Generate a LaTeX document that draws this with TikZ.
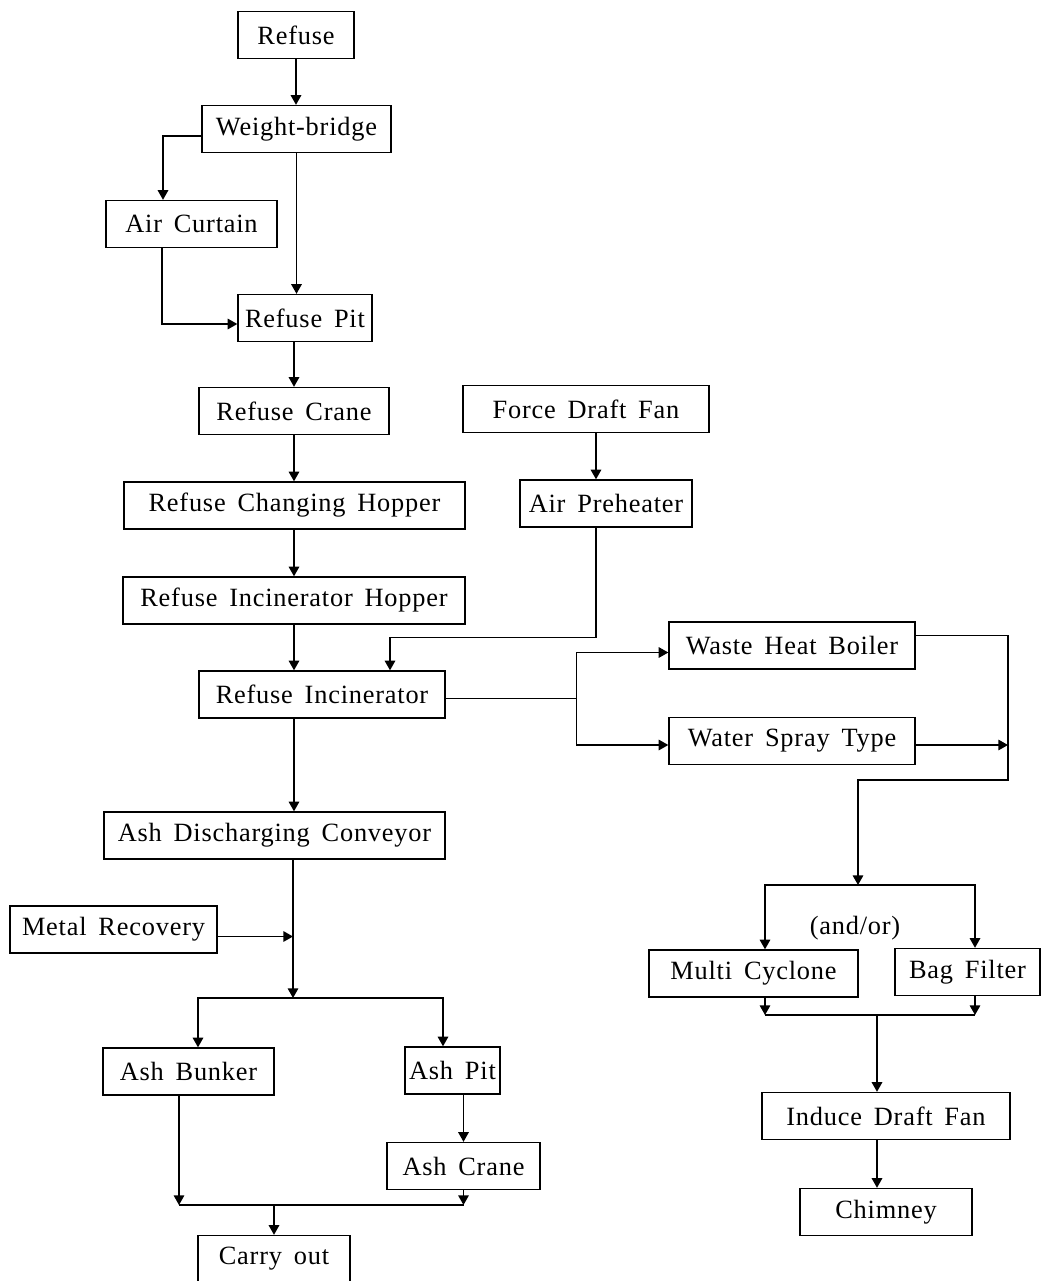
\documentclass[tikz,border=0pt]{standalone}
\usepackage{fontspec}
\setmainfont{Liberation Serif}[LetterSpace=3, WordSpace=1.6]
\usepackage{tikz}
\usetikzlibrary{arrows.meta, positioning, calc}

\begin{document}
\begin{tikzpicture}[
        x=0.02cm, y=-0.02cm,
        box/.style={
            draw=black,
            line width=0.8pt,
            minimum height=0.94cm,
            inner sep=2pt,
            font=\fontsize{15}{18}\selectfont
        },
        edge/.style={
            -{Triangle[length=5.5pt,width=6pt]},
            draw=black,
            line width=0.8pt
        },
        bus/.style={
            draw=black,
            line width=0.8pt
        }
    ]

    \useasboundingbox (0,0) rectangle (1042,1281);

    \node[box, minimum width=2.32cm] (refuse)   at (296,35)      {Refuse};
    \node[box, minimum width=3.78cm] (weigh)    at (296.5,129)   {Weight-bridge};
    \node[box, minimum width=3.42cm] (curtain)  at (191.5,224)   {Air Curtain};
    \node[box, minimum width=2.68cm] (pit)      at (305,318)     {Refuse Pit};
    \node[box, minimum width=3.80cm] (crane)    at (294,411)     {Refuse Crane};
    \node[box, minimum width=6.82cm] (chopper)  at (294.5,505.5) {Refuse Changing Hopper};
    \node[box, minimum width=6.84cm] (ihopper)  at (294,600.5)   {Refuse Incinerator Hopper};
    \node[box, minimum width=4.92cm] (incin)    at (322,694.5)   {Refuse Incinerator};
    \node[box, minimum width=6.82cm] (conveyor) at (274.5,835.5) {Ash Discharging Conveyor};
    \node[box, minimum width=4.14cm] (metal)    at (113.5,929.5) {Metal Recovery};
    \node[box, minimum width=3.42cm] (bunker)   at (188.5,1071.5){Ash Bunker};
    \node[box, minimum width=1.90cm] (ashpit)   at (452.5,1070.5){Ash Pit};
    \node[box, minimum width=3.06cm] (ashcrane) at (463.5,1166)  {Ash Crane};
    \node[box, minimum width=3.04cm] (carry)    at (274,1259)    {Carry out};

    \node[box, minimum width=4.92cm] (fdfan)    at (586,409)     {Force Draft Fan};
    \node[box, minimum width=3.44cm] (preheat)  at (606,503.5)   {Air Preheater};
    \node[box, minimum width=4.92cm] (boiler)   at (792,645.5)   {Waste Heat Boiler};
    \node[box, minimum width=4.92cm] (spray)    at (792,741)     {Water Spray Type};
    \node[box, minimum width=4.18cm] (cyclone)  at (753.5,973.5) {Multi Cyclone};
    \node[box, minimum width=2.90cm] (bagf)     at (967.5,972)   {Bag Filter};
    \node[box, minimum width=4.96cm] (idfan)    at (886,1116)    {Induce Draft Fan};
    \node[box, minimum width=3.44cm] (chimney)  at (886,1212)    {Chimney};
    \node[font=\fontsize{15}{18}\selectfont] (andor) at (855,928) {(and/or)};

    \coordinate (apin)    at ($(preheat.north)+(-10,0)$);
    \coordinate (split)   at ($(incin.east)+(131,4)$);
    \coordinate (rbus)    at (1008,780);
    \coordinate (gasjoin) at (858,885);
    \coordinate (mcin)    at ($(cyclone.north)+(11.5,0)$);
    \coordinate (bfin)    at ($(bagf.north)+(7.5,0)$);
    \coordinate (dust)    at (877,1015);
    \coordinate (ashjoin) at (293,998);
    \coordinate (ashout)  at (274,1205);

    \draw[edge] (refuse.south) -- (refuse.south |- weigh.north);
    \draw[edge] ($(weigh.west)+(0,7)$) -| ($(curtain.north)+(-28.5,0)$);
    \draw[edge] (weigh.south) -- (weigh.south |- pit.north);
    \draw[edge] ($(curtain.south)+(-29.5,0)$) |- ($(pit.west)+(0,6)$);
    \draw[edge] (crane.north |- pit.south) -- (crane.north);
    \draw[edge] (crane.south) -- (crane.south |- chopper.north);
    \draw[edge] (ihopper.north |- chopper.south) -- (ihopper.north);
    \draw[edge] (ihopper.south) -- (ihopper.south |- incin.north);

    \draw[edge] (fdfan.south -| apin) -- (apin);
    \draw[edge] ($(preheat.south)+(-10,0)$) -- ++(0,110) -| ($(incin.north)+(68,0)$);

    \draw[bus] ($(incin.east)+(0,4)$) -- (split);
    \draw[edge] (split) |- ($(boiler.west)+(0,7)$);
    \draw[edge] (split) |- ($(spray.west)+(0,4)$);
    \draw[edge] ($(boiler.east)+(0,-10)$) -| (rbus) -| (gasjoin);
    \draw[edge] ($(spray.east)+(0,4)$) -- ($(spray.east -| rbus)+(0,4)$);
    \draw[edge] (gasjoin) -| (mcin);
    \draw[edge] (gasjoin) -| (bfin);

    \draw[edge] (cyclone.south -| mcin) -- (mcin |- dust);
    \draw[edge] (bagf.south -| bfin) -- (bfin |- dust);
    \draw[bus] (mcin |- dust) -- (bfin |- dust);
    \draw[edge] (dust) -- (dust |- idfan.north);
    \draw[edge] (idfan.south -| dust) -- (dust |- chimney.north);

    \draw[edge] (ihopper.south |- incin.south) -- (ihopper.south |- conveyor.north);
    \draw[edge] (conveyor.south -| ashjoin) -- (ashjoin);
    \draw[edge] ($(metal.east)+(0,7)$) -- ($(metal.east -| ashjoin)+(0,7)$);
    \draw[edge] (ashjoin) -| ($(bunker.north)+(9.5,0)$);
    \draw[edge] (ashjoin) -| ($(ashpit.north)+(-9.5,0)$);
    \draw[edge] (ashcrane.north |- ashpit.south) -- (ashcrane.north);

    \draw[edge] ($(bunker.south)+(-9.5,0)$) -- ($(bunker.south |- ashout)+(-9.5,0)$);
    \draw[edge] (ashcrane.south) -- (ashcrane.south |- ashout);
    \draw[bus] ($(bunker.south |- ashout)+(-9.5,0)$) -- (ashcrane.south |- ashout);
    \draw[edge] (ashout) -- (carry.north);

\end{tikzpicture}
\end{document}
